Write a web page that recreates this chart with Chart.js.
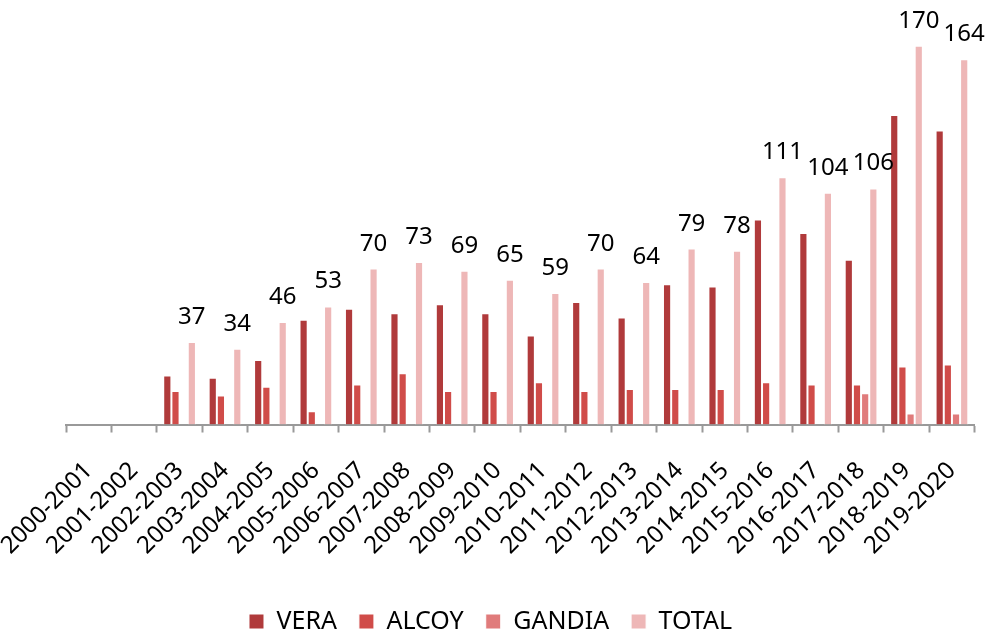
<!DOCTYPE html>
<html>
<head>
<meta charset="utf-8">
<script src="https://cdn.jsdelivr.net/npm/chart.js@4"></script>
<style>
  html, body { margin: 0; padding: 0; background: #fff; }
  #wrap { width: 995px; height: 632px; }
</style>
</head>
<body>
<div id="wrap"><canvas id="chart"></canvas></div>
<script>
// Cursos y series
const cursos = ['2000-2001', '2001-2002', '2002-2003', '2003-2004', '2004-2005', '2005-2006',
  '2006-2007', '2007-2008', '2008-2009', '2009-2010', '2010-2011', '2011-2012', '2012-2013',
  '2013-2014', '2014-2015', '2015-2016', '2016-2017', '2017-2018', '2018-2019', '2019-2020'];
const vera   = [null, null, 22, 21, 29, 47, 52, 50, 54, 50, 40, 55, 48, 63, 62, 92, 86, 74, 139, 132];
const alcoy  = [null, null, 15, 13, 17, 6, 18, 23, 15, 15, 19, 15, 16, 16, 16, 19, 18, 18, 26, 27];
const gandia = [null, null, null, null, null, null, null, null, null, null, null, null, null, null, null, null, null, 14, 5, 5];
const total  = [null, null, 37, 34, 46, 53, 70, 73, 69, 65, 59, 70, 64, 79, 78, 111, 104, 106, 170, 164];

const colors = {
  vera: '#b03a3b',
  alcoy: '#d04c49',
  gandia: '#e07b7b',
  total: '#eeb7b7'
};

const fontFamily = '"Noto Sans", "Open Sans", sans-serif';

// etiquetas solo para TOTAL
const totalLabels = {
  id: 'totalLabels',
  afterDatasetsDraw(chart) {
    const ctx = chart.ctx;
    const meta = chart.getDatasetMeta(3);
    ctx.save();
    ctx.font = '24px ' + fontFamily;
    ctx.fillStyle = '#000';
    ctx.textAlign = 'center';
    ctx.textBaseline = 'alphabetic';
    meta.data.forEach((bar, i) => {
      if (total[i] == null) return;
      ctx.fillText(String(total[i]), bar.x, bar.y - 18);
    });
    ctx.restore();
  }
};

new Chart(document.getElementById('chart'), {
  type: 'bar',
  data: {
    labels: cursos,
    datasets: [
      { label: 'VERA', data: vera, backgroundColor: colors.vera },
      { label: 'ALCOY', data: alcoy, backgroundColor: colors.alcoy },
      { label: 'GANDIA', data: gandia, backgroundColor: colors.gandia },
      { label: 'TOTAL', data: total, backgroundColor: colors.total }
    ].map(d => Object.assign(d, {
      borderColor: '#ffffff',
      borderWidth: 1,
      barPercentage: 1,
      categoryPercentage: 0.72
    }))
  },
  options: {
    responsive: true,
    maintainAspectRatio: false,
    animation: false,
    layout: { padding: { left: 0, right: 14, top: 8, bottom: -12 } },
    plugins: {
      legend: {
        position: 'bottom',
        labels: {
          boxWidth: 15,
          boxHeight: 15,
          padding: 22,
          color: '#000',
          font: { size: 25, family: fontFamily }
        }
      },
      tooltip: { enabled: false }
    },
    scales: {
      x: {
        afterFit(scale) {
          // hueco extra entre etiquetas y leyenda, y eje desde x=66
          scale.height += 3;
          scale.paddingLeft = 66;
        },
        grid: {
          offset: true,
          drawOnChartArea: false,
          drawTicks: true,
          tickLength: 8,
          tickWidth: 2,
          color: '#999999'
        },
        border: { color: '#999999', width: 2 },
        ticks: {
          minRotation: 45,
          maxRotation: 45,
          autoSkip: false,
          color: '#000',
          padding: 24,
          font: { size: 24, family: fontFamily }
        }
      },
      y: {
        display: false,
        min: 0,
        max: 187
      }
    }
  },
  plugins: [totalLabels]
});
</script>
</body>
</html>
